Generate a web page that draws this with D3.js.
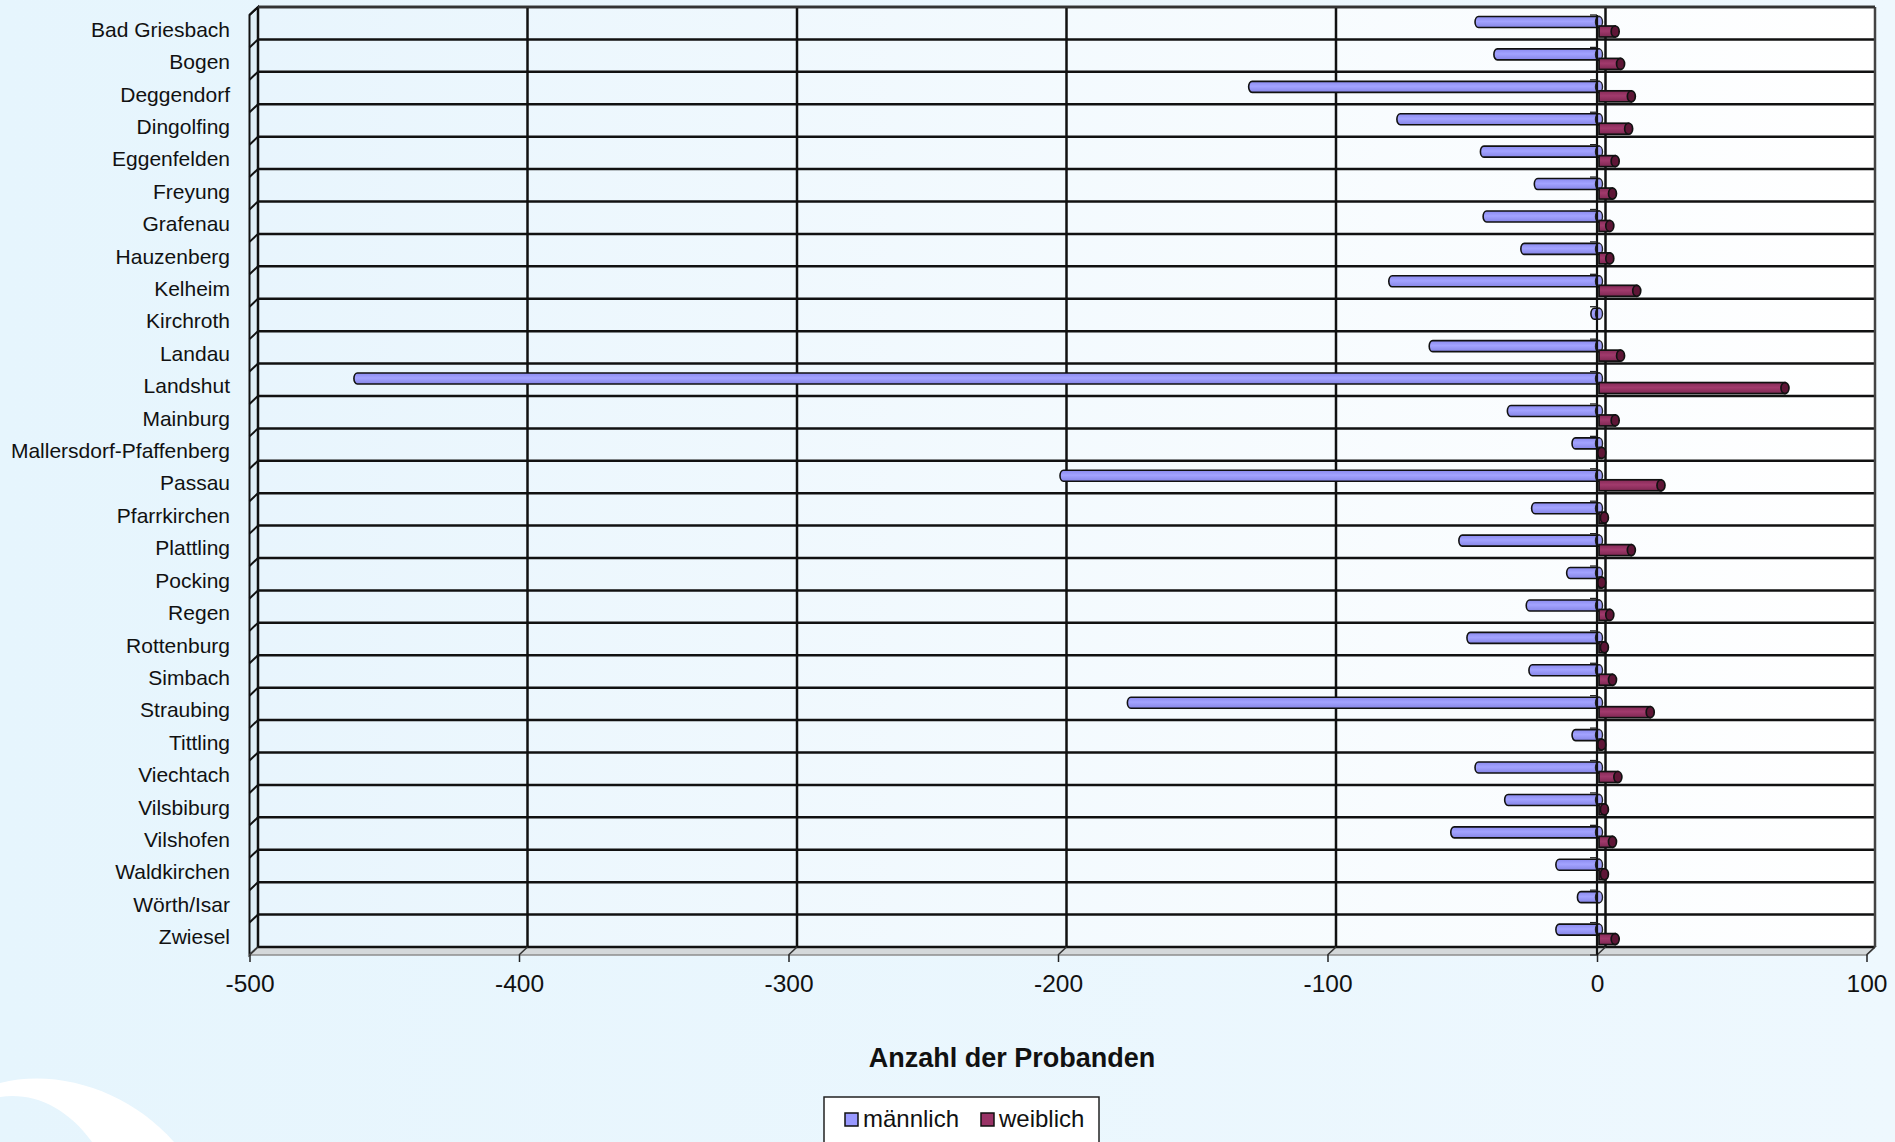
<!DOCTYPE html>
<html>
<head>
<meta charset="utf-8">
<script src="https://cdn.jsdelivr.net/npm/d3@7"></script>
<style>
  body { margin: 0; background: #e7f5fd; }
  svg { display: block; }
  text { font-family: "Liberation Sans", Arial, sans-serif; fill: #111; }
</style>
</head>
<body>
<div id="chart"></div>
<script>
// data
const categories = ["Bad Griesbach", "Bogen", "Deggendorf", "Dingolfing", "Eggenfelden", "Freyung",
  "Grafenau", "Hauzenberg", "Kelheim", "Kirchroth", "Landau", "Landshut", "Mainburg",
  "Mallersdorf-Pfaffenberg", "Passau", "Pfarrkirchen", "Plattling", "Pocking", "Regen",
  "Rottenburg", "Simbach", "Straubing", "Tittling", "Viechtach", "Vilsbiburg", "Vilshofen",
  "Waldkirchen", "Wörth/Isar", "Zwiesel"];
const maennlich = [-46, -39, -130, -75, -44, -24, -43, -29, -78, -3, -63, -462, -34, -10, -200,
  -25, -52, -12, -27, -49, -26, -175, -10, -46, -35, -55, -16, -8, -16];
const weiblich = [6, 8, 12, 11, 6, 5, 4, 4, 14, 0, 8, 69, 6, 1, 23, 2, 12, 1, 4, 2, 5, 19, 1, 7, 2, 5, 2, 0, 6];
const xTicks = [-500, -400, -300, -200, -100, 0, 100];
const seriesNames = ["männlich", "weiblich"];

const W = 1895, H = 1142;
const dx = -8.5, dy = 8; // depth offset back -> front

const svg = d3.select("#chart").append("svg")
  .attr("width", W)
  .attr("height", H);

const defs = svg.append("defs");

const bgGrad = defs.append("linearGradient").attr("id", "bg").attr("x1", 0).attr("x2", 1);
bgGrad.append("stop").attr("offset", 0).attr("stop-color", "#e6f5fd");
bgGrad.append("stop").attr("offset", 1).attr("stop-color", "#eef8fe");

const wallGrad = defs.append("linearGradient").attr("id", "wall").attr("x1", 0).attr("x2", 1);
wallGrad.append("stop").attr("offset", 0).attr("stop-color", "#e8f5fd");
wallGrad.append("stop").attr("offset", 1).attr("stop-color", "#ffffff");

function barGrad(id, c1, c2, c3) {
  const g = defs.append("linearGradient").attr("id", id).attr("x1", 0).attr("x2", 0).attr("y1", 0).attr("y2", 1);
  g.append("stop").attr("offset", 0).attr("stop-color", c1);
  g.append("stop").attr("offset", 0.45).attr("stop-color", c2);
  g.append("stop").attr("offset", 1).attr("stop-color", c3);
}
barGrad("gm", "#8a8aee", "#a3a3ff", "#8585e6");
barGrad("gw", "#852a57", "#a13a6c", "#7e2752");

// background + swoosh
svg.append("rect").attr("width", W).attr("height", H).attr("fill", "url(#bg)");
svg.append("path")
  .attr("d", "M0,1083 C60,1068 130,1092 174,1142 L92,1142 C66,1106 32,1092 0,1097 Z")
  .attr("fill", "#ffffff");

// scales (back plane)
const x = d3.scaleLinear().domain([-500, 100]).range([258, 1875]);
const y = d3.scaleBand().domain(categories).range([7, 947]).padding(0);
const pTop = 7, pBottom = 947, pLeft = x(-500), pRight = x(100);

// back wall
svg.append("rect")
  .attr("x", pLeft).attr("y", pTop)
  .attr("width", pRight - pLeft).attr("height", pBottom - pTop)
  .attr("fill", "url(#wall)");

// left wall
svg.append("path")
  .attr("d", `M${pLeft + dx},${pTop + dy}L${pLeft},${pTop}L${pLeft},${pBottom}L${pLeft + dx},${pBottom + dy}Z`)
  .attr("fill", "#dfeef6")
  .attr("stroke", "#111").attr("stroke-width", 2);

// floor
svg.append("path")
  .attr("d", `M${pLeft},${pBottom}L${pRight},${pBottom}L${pRight + dx},${pBottom + dy}L${pLeft + dx},${pBottom + dy}Z`)
  .attr("fill", "#d4d8da")
  .attr("stroke", "#8d8d8d").attr("stroke-width", 1.5);

// horizontal gridlines (category boundaries)
const bounds = d3.range(categories.length + 1).map(i => pTop + i * y.step());
svg.append("g").selectAll("line")
  .data(bounds)
  .enter().append("line")
  .attr("x1", pLeft).attr("x2", pRight)
  .attr("y1", d => d).attr("y2", d => d)
  .attr("stroke", "#111").attr("stroke-width", 2.5);
svg.append("g").selectAll("line")
  .data(bounds.slice(0, -1))
  .enter().append("line")
  .attr("x1", pLeft).attr("x2", pLeft + dx)
  .attr("y1", d => d).attr("y2", d => d + dy)
  .attr("stroke", "#111").attr("stroke-width", 2);

// vertical gridlines
svg.append("g").selectAll("line")
  .data(xTicks)
  .enter().append("line")
  .attr("x1", d => x(d)).attr("x2", d => x(d))
  .attr("y1", pTop).attr("y2", pBottom)
  .attr("stroke", d => d === 100 ? "#444" : "#111").attr("stroke-width", 2.5);
svg.append("g").selectAll("line")
  .data(xTicks)
  .enter().append("line")
  .attr("x1", d => x(d)).attr("x2", d => x(d) + dx)
  .attr("y1", pBottom).attr("y2", pBottom + dy)
  .attr("stroke", "#333").attr("stroke-width", 1.5);

// top edge
svg.append("line")
  .attr("x1", pLeft).attr("x2", pRight).attr("y1", pTop).attr("y2", pTop)
  .attr("stroke", "#333").attr("stroke-width", 2.5);

// front value axis
const xFront = d3.scaleLinear().domain(x.domain()).range(x.range().map(v => v + dx));
const axis = svg.append("g")
  .attr("transform", `translate(0,${pBottom + dy})`)
  .call(d3.axisBottom(xFront).tickValues(xTicks).tickSize(7).tickPadding(13).tickFormat(d3.format("d")));
axis.select(".domain").remove();
axis.selectAll("line").attr("stroke", "#222").attr("stroke-width", 1.5);
axis.selectAll("text")
  .attr("font-size", 24.5)
  .attr("font-family", "Liberation Sans, Arial, sans-serif")
  .attr("fill", "#111")
  .text(d => d < 0 ? "-" + Math.abs(d) : d);

// bars
const xb = v => x(v) - 6.5;
const zero = xb(0);
const rows = categories.map((c, i) => ({ c, m: maennlich[i], w: weiblich[i], y0: y(c) }));

const gb = svg.append("g");
rows.forEach(d => {
  // male cylinder (negative)
  const my = d.y0 + 9.5, mh = 11, mr = mh / 2, rx = 3.5;
  const x1 = xb(d.m);
  gb.append("path")
    .attr("d", `M${zero},${my}L${x1 + rx},${my}A${rx},${mr} 0 0 0 ${x1 + rx},${my + mh}L${zero},${my + mh}Z`)
    .attr("fill", "url(#gm)")
    .attr("stroke", "#111").attr("stroke-width", 1.6);
  gb.append("ellipse")
    .attr("cx", zero).attr("cy", my + mr)
    .attr("rx", rx).attr("ry", mr)
    .attr("fill", "#9f9ff8")
    .attr("stroke", "#222").attr("stroke-width", 1.4);

  // female cylinder (positive)
  const wy = d.y0 + 19, wh = 11, wr = wh / 2;
  if (d.w > 0) {
    const x2 = xb(d.w);
    gb.append("rect")
      .attr("x", zero).attr("y", wy)
      .attr("width", x2 - zero).attr("height", wh)
      .attr("fill", "url(#gw)")
      .attr("stroke", "#111").attr("stroke-width", 1.7);
    gb.append("ellipse")
      .attr("cx", x2).attr("cy", wy + wr)
      .attr("rx", rx + 0.5).attr("ry", wr)
      .attr("fill", "#5e1636")
      .attr("stroke", "#111").attr("stroke-width", 1.7);
  }
});

// category axis at zero (front)
const zf = xFront(0);
svg.append("line")
  .attr("x1", zf).attr("x2", zf)
  .attr("y1", pTop + dy).attr("y2", pBottom + dy)
  .attr("stroke", "#111").attr("stroke-width", 2.2);
svg.append("g").selectAll("line")
  .data(bounds)
  .enter().append("line")
  .attr("x1", zf - 7).attr("x2", zf)
  .attr("y1", d => d + dy).attr("y2", d => d + dy)
  .attr("stroke", "#222").attr("stroke-width", 1.3);

// category labels
svg.append("g").selectAll("text")
  .data(categories)
  .enter().append("text")
  .attr("x", 230)
  .attr("y", d => y(d) + 29.7)
  .attr("text-anchor", "end")
  .attr("font-size", 21)
  .text(d => d);

// axis title
svg.append("text")
  .attr("x", 1012).attr("y", 1067)
  .attr("text-anchor", "middle")
  .attr("font-size", 27)
  .attr("font-weight", "bold")
  .text("Anzahl der Probanden");

// legend
const lg = svg.append("g");
lg.append("rect")
  .attr("x", 824).attr("y", 1097)
  .attr("width", 275).attr("height", 60)
  .attr("fill", "#ffffff")
  .attr("stroke", "#222").attr("stroke-width", 1.5);
const legendItems = [
  { name: seriesNames[0], fill: "#9999ff", sx: 845, tx: 863 },
  { name: seriesNames[1], fill: "#993366", sx: 981, tx: 999 }
];
legendItems.forEach(it => {
  lg.append("rect")
    .attr("x", it.sx).attr("y", 1113)
    .attr("width", 13).attr("height", 13)
    .attr("fill", it.fill)
    .attr("stroke", "#111").attr("stroke-width", 1.5);
  lg.append("text")
    .attr("x", it.tx).attr("y", 1127)
    .attr("font-size", 24)
    .text(it.name);
});
</script>
</body>
</html>
